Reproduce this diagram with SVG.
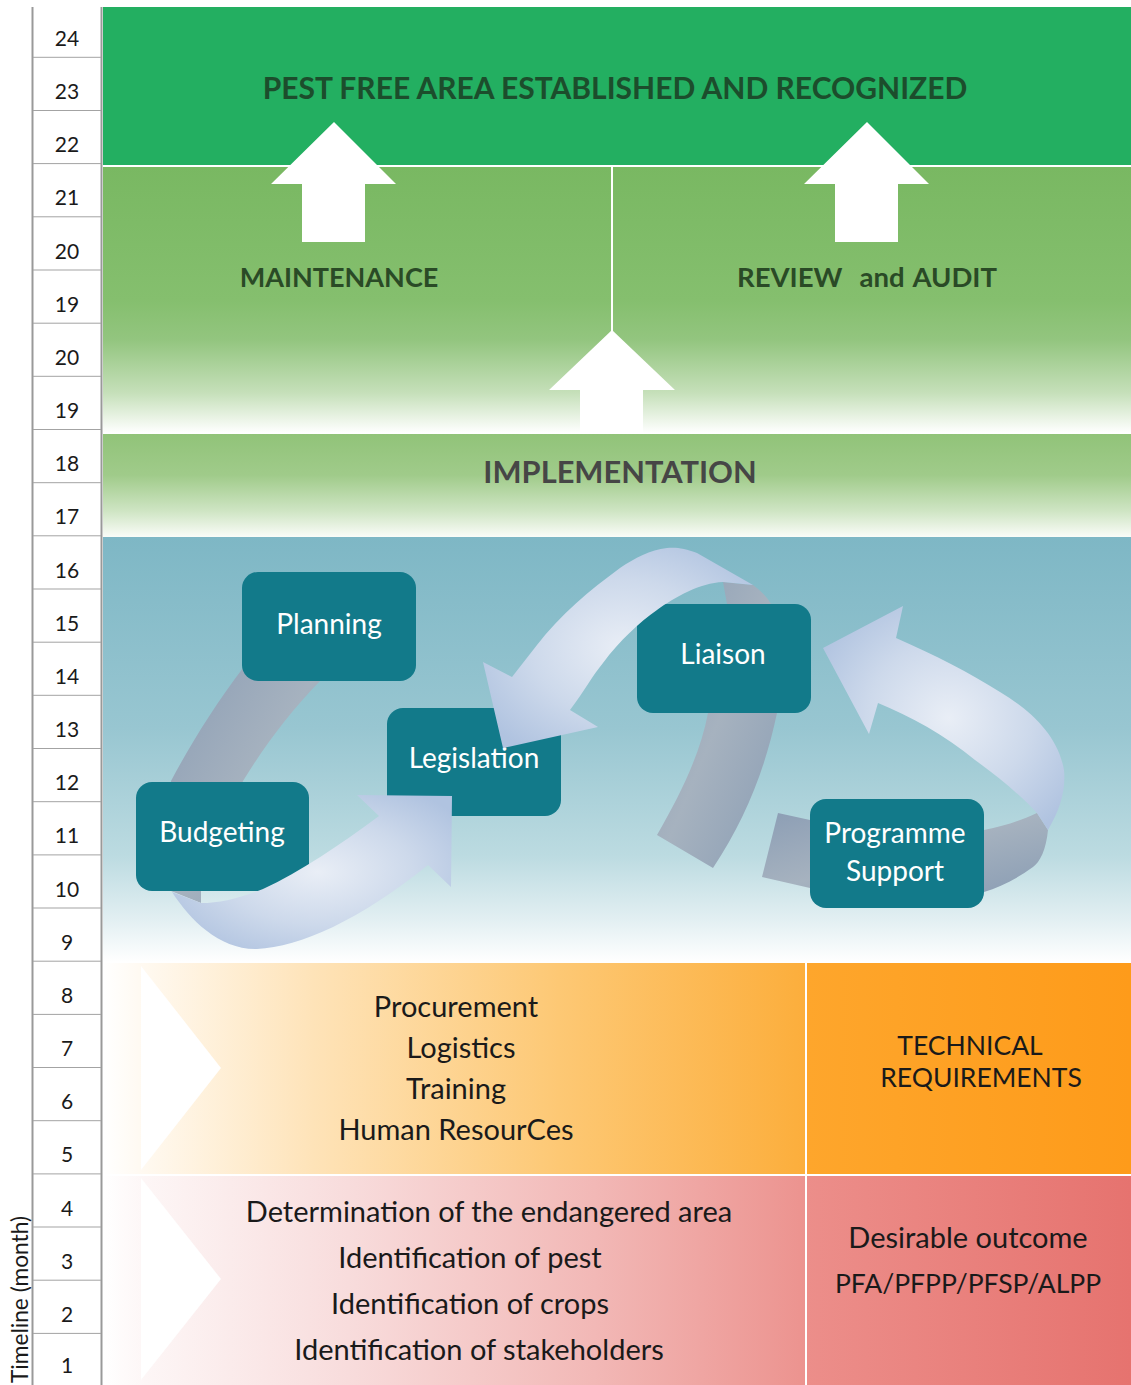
<svg xmlns="http://www.w3.org/2000/svg" width="1131" height="1385" viewBox="0 0 1131 1385">
<defs>
<style>
.num{font-family:Lato,"Liberation Sans",sans-serif;font-size:21px;fill:#1a1a1a;text-anchor:middle}
.hd{font-family:Lato,"Liberation Sans",sans-serif;font-weight:bold;text-anchor:middle}
.box{fill:#127A8A}
.bt{font-family:Lato,"Liberation Sans",sans-serif;font-size:28px;fill:#ffffff;text-anchor:middle}
.lt{font-family:Lato,"Liberation Sans",sans-serif;font-size:29px;fill:#1a1a1a;text-anchor:middle}
.cap{font-size:26.5px}
.div{stroke:#a3a3a3;stroke-width:1}
.wa{fill:#ffffff}
</style>
<linearGradient id="g2" x1="0" y1="0" x2="0" y2="1">
<stop offset="0" stop-color="#79B862"/><stop offset="0.5" stop-color="#85BF6E"/><stop offset="0.65" stop-color="#93C57F"/><stop offset="0.85" stop-color="#C6E0BA"/><stop offset="1" stop-color="#FFFFFF"/>
</linearGradient>
<linearGradient id="g3" x1="0" y1="0" x2="0" y2="1">
<stop offset="0" stop-color="#91C379"/><stop offset="0.4" stop-color="#A0CB8A"/><stop offset="0.75" stop-color="#CFE5C4"/><stop offset="1" stop-color="#FAFCF8"/>
</linearGradient>
<linearGradient id="gb" x1="0" y1="0" x2="0" y2="1">
<stop offset="0" stop-color="#7EB7C5"/><stop offset="0.45" stop-color="#98C6D1"/><stop offset="0.75" stop-color="#BCDBE1"/><stop offset="0.9" stop-color="#E2EFF2"/><stop offset="1" stop-color="#FFFFFF"/>
</linearGradient>
<linearGradient id="go" x1="0" y1="0" x2="1" y2="0">
<stop offset="0" stop-color="#FFFFFF"/><stop offset="0.06" stop-color="#FFF9F0"/><stop offset="0.3" stop-color="#FEE3B8"/><stop offset="0.65" stop-color="#FDC874"/><stop offset="1" stop-color="#FCAE3C"/>
</linearGradient>
<linearGradient id="go2" x1="0" y1="0" x2="1" y2="0">
<stop offset="0" stop-color="#FEA62C"/><stop offset="1" stop-color="#FE9B1A"/>
</linearGradient>
<linearGradient id="gr" x1="0" y1="0" x2="1" y2="0">
<stop offset="0" stop-color="#FFFFFF"/><stop offset="0.06" stop-color="#FDF6F6"/><stop offset="0.35" stop-color="#F8DCDC"/><stop offset="0.7" stop-color="#F2B8B6"/><stop offset="1" stop-color="#EC938F"/>
</linearGradient>
<linearGradient id="gr2" x1="0" y1="0" x2="1" y2="0">
<stop offset="0" stop-color="#EC8E8A"/><stop offset="1" stop-color="#E6736F"/>
</linearGradient>
<radialGradient id="rb" cx="0.52" cy="0.5" r="0.62">
<stop offset="0" stop-color="#E9EEF6"/><stop offset="0.55" stop-color="#CDD9EB"/><stop offset="1" stop-color="#B0C3E0"/>
</radialGradient>
<linearGradient id="gg" x1="0" y1="0" x2="1" y2="1">
<stop offset="0" stop-color="#8C9EB5"/><stop offset="0.5" stop-color="#A6B2BF"/><stop offset="1" stop-color="#8A9DB4"/>
</linearGradient>
</defs>

<rect x="0" y="0" width="1131" height="1385" fill="#ffffff"/>

<g id="bands">
<rect x="103" y="7" width="1028" height="158" fill="#23AF61"/>
<rect x="103" y="167" width="1028" height="266" fill="url(#g2)"/>
<rect x="103" y="434" width="1028" height="103" fill="url(#g3)"/>
<rect x="103" y="537" width="1028" height="425" fill="url(#gb)"/>
<rect x="103" y="963" width="702" height="211" fill="url(#go)"/>
<rect x="807" y="963" width="324" height="211" fill="url(#go2)"/>
<rect x="103" y="1176" width="702" height="209" fill="url(#gr)"/>
<rect x="807" y="1176" width="324" height="209" fill="url(#gr2)"/>
<line x1="612" y1="167" x2="612" y2="332" stroke="#ffffff" stroke-width="2"/>
<polygon class="wa" points="141,966 221,1068 141,1170"/>
<polygon class="wa" points="141,1178 221,1279 141,1380"/>
</g>

<g id="timeline">
<line x1="32.5" y1="7" x2="32.5" y2="1385" stroke="#999999" stroke-width="2"/>
<line x1="101.5" y1="7" x2="101.5" y2="1385" stroke="#999999" stroke-width="2"/>
<g class="div">
<line x1="33" y1="57.3" x2="101" y2="57.3"/><line x1="33" y1="110.5" x2="101" y2="110.5"/><line x1="33" y1="163.6" x2="101" y2="163.6"/><line x1="33" y1="216.8" x2="101" y2="216.8"/><line x1="33" y1="270" x2="101" y2="270"/><line x1="33" y1="323.2" x2="101" y2="323.2"/><line x1="33" y1="376.3" x2="101" y2="376.3"/><line x1="33" y1="429.5" x2="101" y2="429.5"/><line x1="33" y1="482.7" x2="101" y2="482.7"/><line x1="33" y1="535.8" x2="101" y2="535.8"/><line x1="33" y1="589" x2="101" y2="589"/><line x1="33" y1="642.2" x2="101" y2="642.2"/><line x1="33" y1="695.3" x2="101" y2="695.3"/><line x1="33" y1="748.5" x2="101" y2="748.5"/><line x1="33" y1="801.7" x2="101" y2="801.7"/><line x1="33" y1="854.9" x2="101" y2="854.9"/><line x1="33" y1="908" x2="101" y2="908"/><line x1="33" y1="961.2" x2="101" y2="961.2"/><line x1="33" y1="1014.4" x2="101" y2="1014.4"/><line x1="33" y1="1067.5" x2="101" y2="1067.5"/><line x1="33" y1="1120.7" x2="101" y2="1120.7"/><line x1="33" y1="1173.9" x2="101" y2="1173.9"/><line x1="33" y1="1227" x2="101" y2="1227"/><line x1="33" y1="1280.2" x2="101" y2="1280.2"/><line x1="33" y1="1333.4" x2="101" y2="1333.4"/>
</g>
<text class="num" x="67" y="46">24</text>
<text class="num" x="67" y="99">23</text>
<text class="num" x="67" y="152">22</text>
<text class="num" x="67" y="205.3">21</text>
<text class="num" x="67" y="258.5">20</text>
<text class="num" x="67" y="311.7">19</text>
<text class="num" x="67" y="364.8">20</text>
<text class="num" x="67" y="418">19</text>
<text class="num" x="67" y="471.2">18</text>
<text class="num" x="67" y="524.3">17</text>
<text class="num" x="67" y="577.5">16</text>
<text class="num" x="67" y="630.7">15</text>
<text class="num" x="67" y="683.8">14</text>
<text class="num" x="67" y="737">13</text>
<text class="num" x="67" y="790.2">12</text>
<text class="num" x="67" y="843.4">11</text>
<text class="num" x="67" y="896.5">10</text>
<text class="num" x="67" y="949.7">9</text>
<text class="num" x="67" y="1002.9">8</text>
<text class="num" x="67" y="1056">7</text>
<text class="num" x="67" y="1109.2">6</text>
<text class="num" x="67" y="1162.4">5</text>
<text class="num" x="67" y="1215.5">4</text>
<text class="num" x="67" y="1268.7">3</text>
<text class="num" x="67" y="1321.9">2</text>
<text class="num" x="67" y="1373">1</text>
<text transform="translate(28,1383) rotate(-90)" font-family="Lato, 'Liberation Sans', sans-serif" font-size="22.7" fill="#1a1a1a">Timeline (month)</text>
</g>

<g id="connectors-back">
<polygon class="wa" points="334,122 396,184 365,184 365,242 302,242 302,184 271,184"/>
<polygon class="wa" points="867,122 929,184 898,184 898,242 835,242 835,184 804,184"/>
<polygon class="wa" points="612,330 675,390 643,390 643,433 580,433 580,390 549,390"/>
<path fill="url(#gg)" d="M 243,668 C 215,705 190,745 171,781 L 171,891 L 201,903 L 201,891 L 243,781 C 265,745 290,712 320,681 Z"/>
<path fill="url(#gg)" d="M 723,582 L 753,585 C 760,590 767,597 771,604 L 777,713 C 765,770 745,820 713,868 L 657,835 C 680,795 700,755 708,713 L 727,604 Z"/>
<path fill="url(#gg)" d="M 1037,813 L 1048,830 C 1046,850 1040,862 1033,867 C 1015,880 1000,887 984,892 L 810,888 L 762,877 L 778,813 L 810,820 L 984,830 C 1005,826 1022,820 1037,813 Z"/>
</g>

<g id="node-pest-free-area">
<text class="hd" x="615" y="99" font-size="30" fill="#1C4D2C">PEST FREE AREA ESTABLISHED AND RECOGNIZED</text>
</g>
<g id="node-maintenance">
<text class="hd" x="339" y="287" font-size="27" fill="#2A4A26">MAINTENANCE</text>
</g>
<g id="node-review">
<text class="hd" x="867" y="287" font-size="27.5" fill="#2A4A26" word-spacing="2" xml:space="preserve">REVIEW  and AUDIT</text>
</g>
<g id="node-implementation">
<text class="hd" x="620" y="483" font-size="30.8" fill="#464646">IMPLEMENTATION</text>
</g>

<g id="node-planning">
<rect class="box" x="242" y="572" width="174" height="109" rx="16"/>
<text class="bt" x="329" y="634">Planning</text>
</g>
<g id="node-legislation">
<rect class="box" x="387" y="708" width="174" height="108" rx="16"/>
<text class="bt" x="474" y="768">Legislation</text>
</g>
<g id="node-budgeting">
<rect class="box" x="136" y="782" width="173" height="109" rx="16"/>
<text class="bt" x="222" y="842">Budgeting</text>
</g>
<g id="node-liaison">
<rect class="box" x="637" y="604" width="174" height="109" rx="16"/>
<text class="bt" x="723" y="664">Liaison</text>
</g>
<g id="node-programme-support">
<rect class="box" x="810" y="799" width="174" height="109" rx="16"/>
<text class="bt" x="895" y="843">Programme</text>
<text class="bt" x="895" y="881">Support</text>
</g>

<g id="connectors-front">
<path fill="url(#rb)" d="M 172,892 C 190,920 220,950 257,949 C 300,947 360,920 428,865 L 451,887 L 452,796 L 357,795 L 379,816 C 340,845 300,872 263,889 C 240,898 220,903 201,903 Z"/>
<path fill="url(#rb)" d="M 723,582 L 753,585 L 697,553 C 685,548 675,547 667,548 C 650,550 635,558 620,568 C 590,590 560,615 537,645 L 512,677 L 483,662 L 503,748 L 598,727 L 570,710 C 585,690 593,675 603,663 C 620,640 640,622 657,610 C 675,597 700,583 723,582 Z"/>
<path fill="url(#rb)" d="M 1037,813 L 1048,830 C 1060,810 1066,790 1064,770 C 1058,735 1030,710 1000,692 C 970,673 935,655 896,638 L 903,606 L 823,648 L 869,734 L 878,703 C 910,716 945,735 975,760 C 1000,778 1020,795 1037,813 Z"/>
</g>

<g id="node-resources">
<text class="lt" x="456" y="1017">Procurement</text>
<text class="lt" x="461" y="1058">Logistics</text>
<text class="lt" x="456" y="1099">Training</text>
<text class="lt" x="456" y="1140">Human ResourCes</text>
</g>
<g id="node-technical">
<text class="lt cap" x="970" y="1055">TECHNICAL</text>
<text class="lt cap" x="981" y="1087">REQUIREMENTS</text>
</g>
<g id="node-identification">
<text class="lt" x="489" y="1222">Determination of the endangered area</text>
<text class="lt" x="470" y="1268">Identification of pest</text>
<text class="lt" x="470" y="1314">Identification of crops</text>
<text class="lt" x="479" y="1360">Identification of stakeholders</text>
</g>
<g id="node-outcome">
<text class="lt" x="968" y="1248">Desirable outcome</text>
<text class="lt cap" x="968" y="1293">PFA/PFPP/PFSP/ALPP</text>
</g>
</svg>
